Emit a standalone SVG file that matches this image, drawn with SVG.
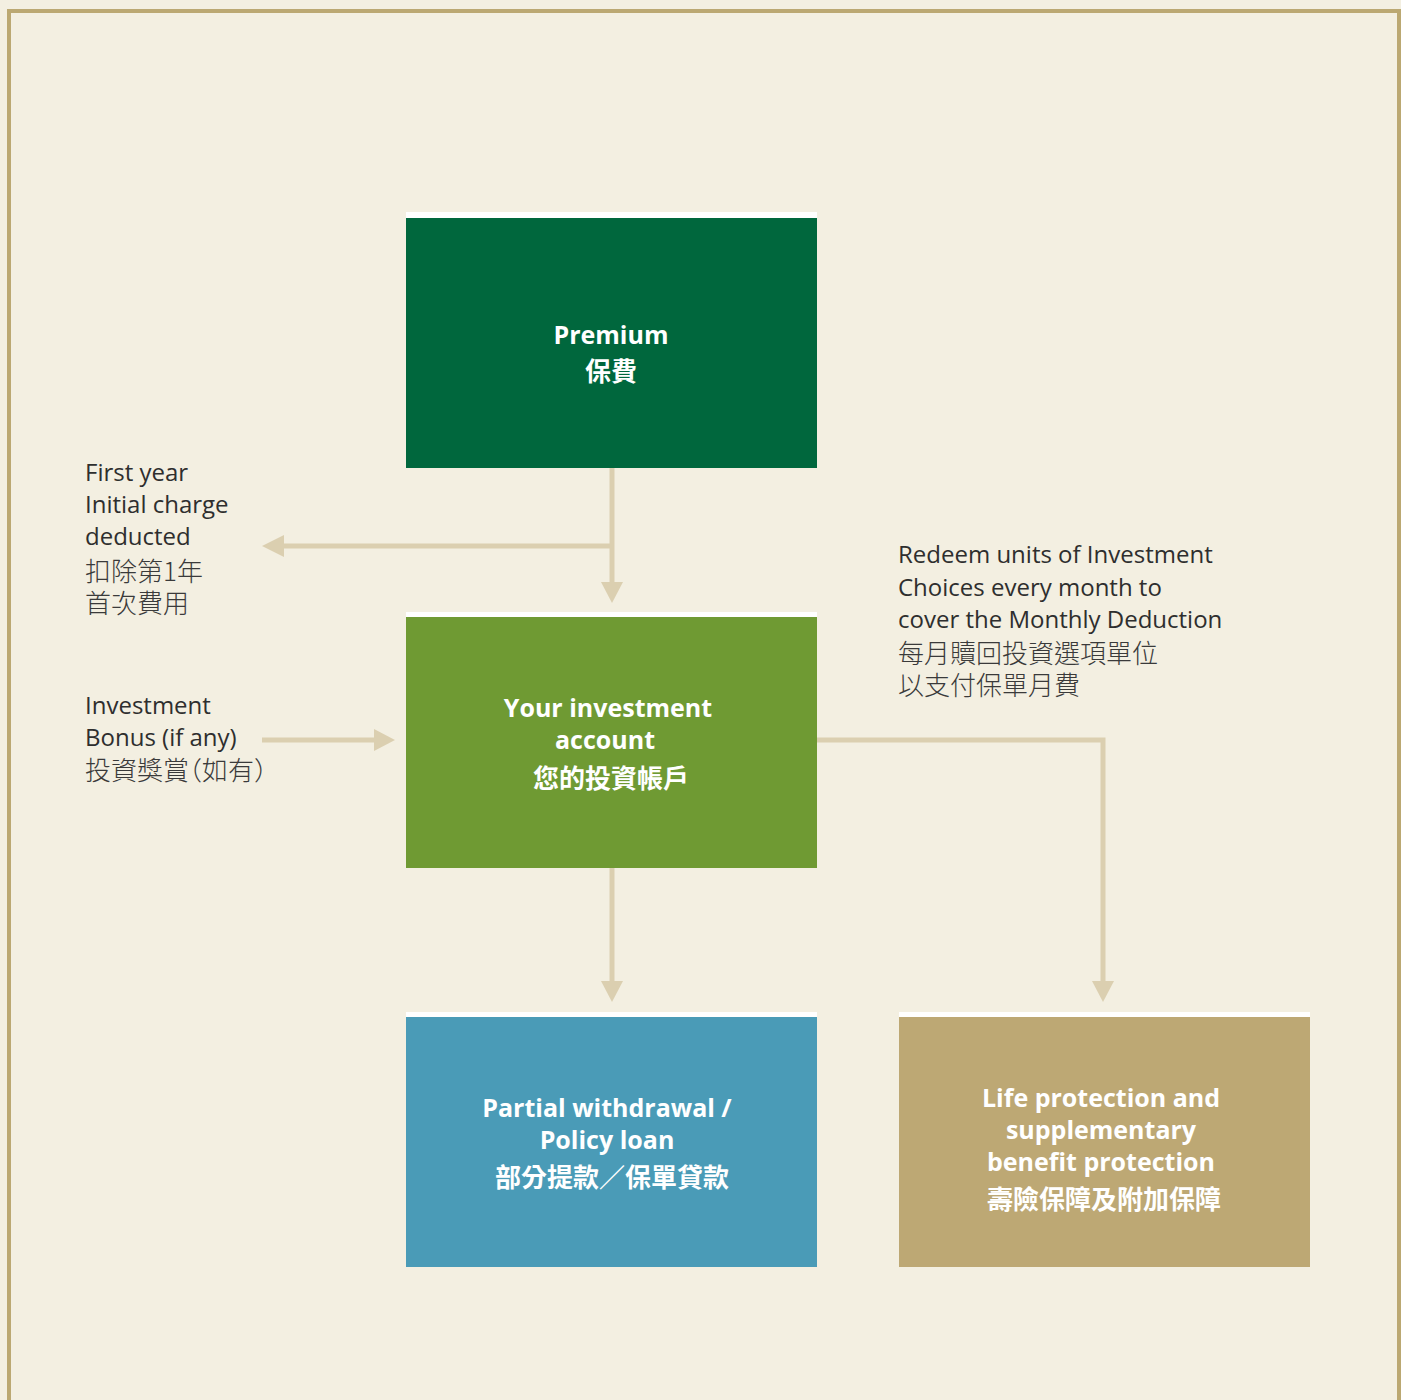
<svg xmlns="http://www.w3.org/2000/svg" width="1401" height="1400" viewBox="0 0 1401 1400">
<defs>
<style>
.bg{fill:#f3efe1}
.frame{fill:none;stroke:#bba872;stroke-width:4}
.strip{fill:#ffffff}
.conn{fill:none;stroke:#dbcfb0;stroke-width:5}
.head{fill:#dbcfb0}
.bt{font-family:"Open Sans","Noto Sans","Noto Sans CJK TC",sans-serif;font-weight:bold;font-size:25px;fill:#ffffff;text-anchor:middle}
.bc{font-family:"Noto Sans CJK TC","Noto Sans",sans-serif;font-weight:bold;font-size:26px;fill:#ffffff;text-anchor:middle}
.lt{font-family:"Open Sans","Noto Sans",sans-serif;font-size:24px;fill:#2e2e2e}
.lc{font-family:"Noto Sans CJK TC",sans-serif;font-weight:300;font-size:26px;fill:#3a3a3a}
.half{font-feature-settings:"halt"}
</style>
</defs>
<rect class="bg" x="0" y="0" width="1401" height="1400"/>
<rect class="frame" x="9" y="11" width="1390" height="1400"/>

<g id="premium">
<rect class="strip" x="406" y="212" width="411" height="6"/>
<rect x="406" y="218" width="411" height="250" fill="#00673d"/>
<text class="bt" x="611" y="344">Premium</text>
<text class="bc" x="611" y="381">保費</text>
</g>

<g id="account">
<rect class="strip" x="406" y="612" width="411" height="6"/>
<rect x="406" y="617" width="411" height="251" fill="#6f9a33"/>
<text class="bt" x="608" y="717">Your investment</text>
<text class="bt" x="605" y="749">account</text>
<text class="bc" x="611" y="788">您的投資帳戶</text>
</g>

<g id="withdrawal">
<rect class="strip" x="406" y="1012" width="411" height="6"/>
<rect x="406" y="1017" width="411" height="250" fill="#4a9bb7"/>
<text class="bt" x="607" y="1117">Partial withdrawal /</text>
<text class="bt" x="607" y="1149">Policy loan</text>
<text class="bc" x="612" y="1187">部分提款／保單貸款</text>
</g>

<g id="protection">
<rect class="strip" x="899" y="1012" width="411" height="6"/>
<rect x="899" y="1017" width="411" height="250" fill="#bda874"/>
<text class="bt" x="1101" y="1107">Life protection and</text>
<text class="bt" x="1101" y="1139">supplementary</text>
<text class="bt" x="1101" y="1171">benefit protection</text>
<text class="bc" x="1104" y="1209">壽險保障及附加保障</text>
</g>

<g id="label-charge">
<text class="lt" x="85" y="481">First year</text>
<text class="lt" x="85" y="513">Initial charge</text>
<text class="lt" x="85" y="545">deducted</text>
<text class="lc" x="85" y="581">扣除第1年</text>
<text class="lc" x="85" y="613">首次費用</text>
</g>

<g id="label-bonus">
<text class="lt" x="85" y="714">Investment</text>
<text class="lt" x="85" y="746">Bonus (if any)</text>
<text class="lc" x="85" y="780">投資獎賞<tspan class="half">（</tspan>如有<tspan class="half">）</tspan></text>
</g>

<g id="label-redeem">
<text class="lt" x="898" y="563">Redeem units of Investment</text>
<text class="lt" x="898" y="596">Choices every month to</text>
<text class="lt" x="898" y="628">cover the Monthly Deduction</text>
<text class="lc" x="898" y="663">每月贖回投資選項單位</text>
<text class="lc" x="898" y="695">以支付保單月費</text>
</g>

<g id="connectors">
<path class="conn" d="M612 468 V584"/>
<polygon class="head" points="601,582 623,582 612,603"/>
<path class="conn" d="M612 546 H282"/>
<polygon class="head" points="284,535 284,557 262,546"/>
<path class="conn" d="M262 740 H376"/>
<polygon class="head" points="374,729 374,751 395,740"/>
<path class="conn" d="M612 868 V983"/>
<polygon class="head" points="601,981 623,981 612,1002"/>
<path class="conn" d="M817 740 H1103 V983"/>
<polygon class="head" points="1092,981 1114,981 1103,1002"/>
</g>
</svg>
